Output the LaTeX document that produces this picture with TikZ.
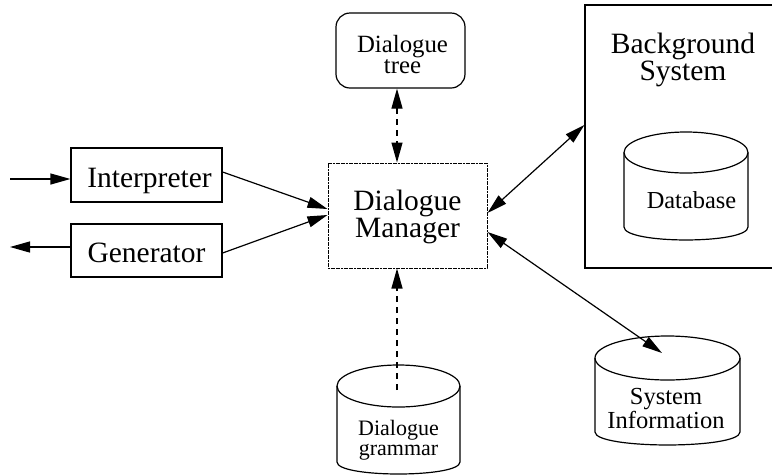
\documentclass[tikz,border=0pt]{standalone}
\usepackage{fontspec}
\setmainfont{Liberation Serif}
\usetikzlibrary{arrows.meta}

\tikzset{
  line/.style={line width=1.2pt},
  tip/.style={-{Triangle[length=20pt,width=11pt]}},
  tips/.style={{Triangle[length=20pt,width=11pt]}-{Triangle[length=20pt,width=11pt]}},
  dashline/.style={dash pattern=on 6pt off 5pt},
  box/.style={draw, line width=1.2pt, rectangle, inner sep=0pt},
  bigtext/.style={font=\fontsize{29.5}{23}\selectfont, align=center, inner sep=0pt},
  smalltext/.style={font=\fontsize{24.6}{20}\selectfont, align=center, inner sep=0pt},
}

\begin{document}
\begin{tikzpicture}[x=1pt, y=-1pt]
\useasboundingbox (0,0) rectangle (772,475);

% boxes
\node[box, minimum width=151pt, minimum height=54pt] (interp) at (146.5,175) {};
\node[box, minimum width=151pt, minimum height=53pt] (gen) at (146.5,250.5) {};
\node[box, line width=1pt, dash pattern=on 2pt off 0.6pt,
      minimum width=159pt, minimum height=105pt] (manager) at (407.5,215.5) {};
\node[box, rounded corners=14pt, minimum width=129pt, minimum height=75pt] (tree) at (400.5,50.5) {};
\node[box, minimum width=215pt, minimum height=263pt] (bg) at (692.5,136.5) {};

% drums
\coordinate (gram) at (398.5,386);
\coordinate (db) at (686,152.5);
\coordinate (sys) at (667.5,358);
\draw[line, fill=white] (gram) ellipse [x radius=61.5, y radius=21];
\draw[line] (337,386) -- (337,462) .. controls (337,478) and (460,478) .. (460,462) -- (460,386);
\draw[line, fill=white] (db) ellipse [x radius=62, y radius=20.5];
\draw[line] (624,152.5) -- (624,227) .. controls (624,244.3) and (748,244.3) .. (748,227) -- (748,152.5);
\draw[line, fill=white] (sys) ellipse [x radius=72.5, y radius=22];
\draw[line] (595,358) -- (595,432) .. controls (595,449.3) and (740,449.3) .. (740,432) -- (740,358);

% labels
\node[bigtext, anchor=base] (interpText) at (149.5,187.5) {Interpreter};
\node[bigtext, anchor=base] (genText) at (146.5,262) {Generator};
\node[bigtext] (managerText) at (407.5,217) {Dialogue\\Manager};
\node[bigtext, font=\fontsize{29.5}{27}\selectfont] (bgText) at (683,59.5) {Background\\System};
\node[smalltext, font=\fontsize{24.8}{21}\selectfont] (treeText) at (402.5,55) {Dialogue\\tree};
\node[smalltext, anchor=base, font=\fontsize{24.4}{20}\selectfont] (dbText) at (691.5,208) {Database};
\node[smalltext, font=\fontsize{24.5}{22}\selectfont] (sysText) at (666,408.7) {System\\Information};
\node[smalltext, font=\fontsize{22}{20}\selectfont] (gramText) at (398.5,440) {Dialogue\\grammar};

% connectors
\coordinate (in) at (10,179);
\coordinate (out) at (10,247);
\draw[line, tip] (in) -- (in -| interp.west);
\draw[line, tip] (out -| gen.west) -- (out);
\draw[line, tip] ([yshift=3pt]interp.east) -- ([yshift=6.5pt]manager.west);
\draw[line, tip] ([yshift=-2.5pt]gen.east) -- ([yshift=0.5pt]manager.west);
\draw[line, tips] ([yshift=2.5pt]manager.east) -- ([yshift=11.5pt]bg.west);
\draw[line, tips] ([yshift=-16.5pt]manager.east) -- ([shift={(-5.5,-5)}]sys);
\draw[line, tips, dashline] ([xshift=-3.5pt]tree.south) -- ([xshift=-3.5pt]tree.south |- manager.north);
\coordinate (gramTop) at (397,390);
\draw[line, tip, dashline] (gramTop) -- (gramTop |- manager.south);
\end{tikzpicture}
\end{document}
